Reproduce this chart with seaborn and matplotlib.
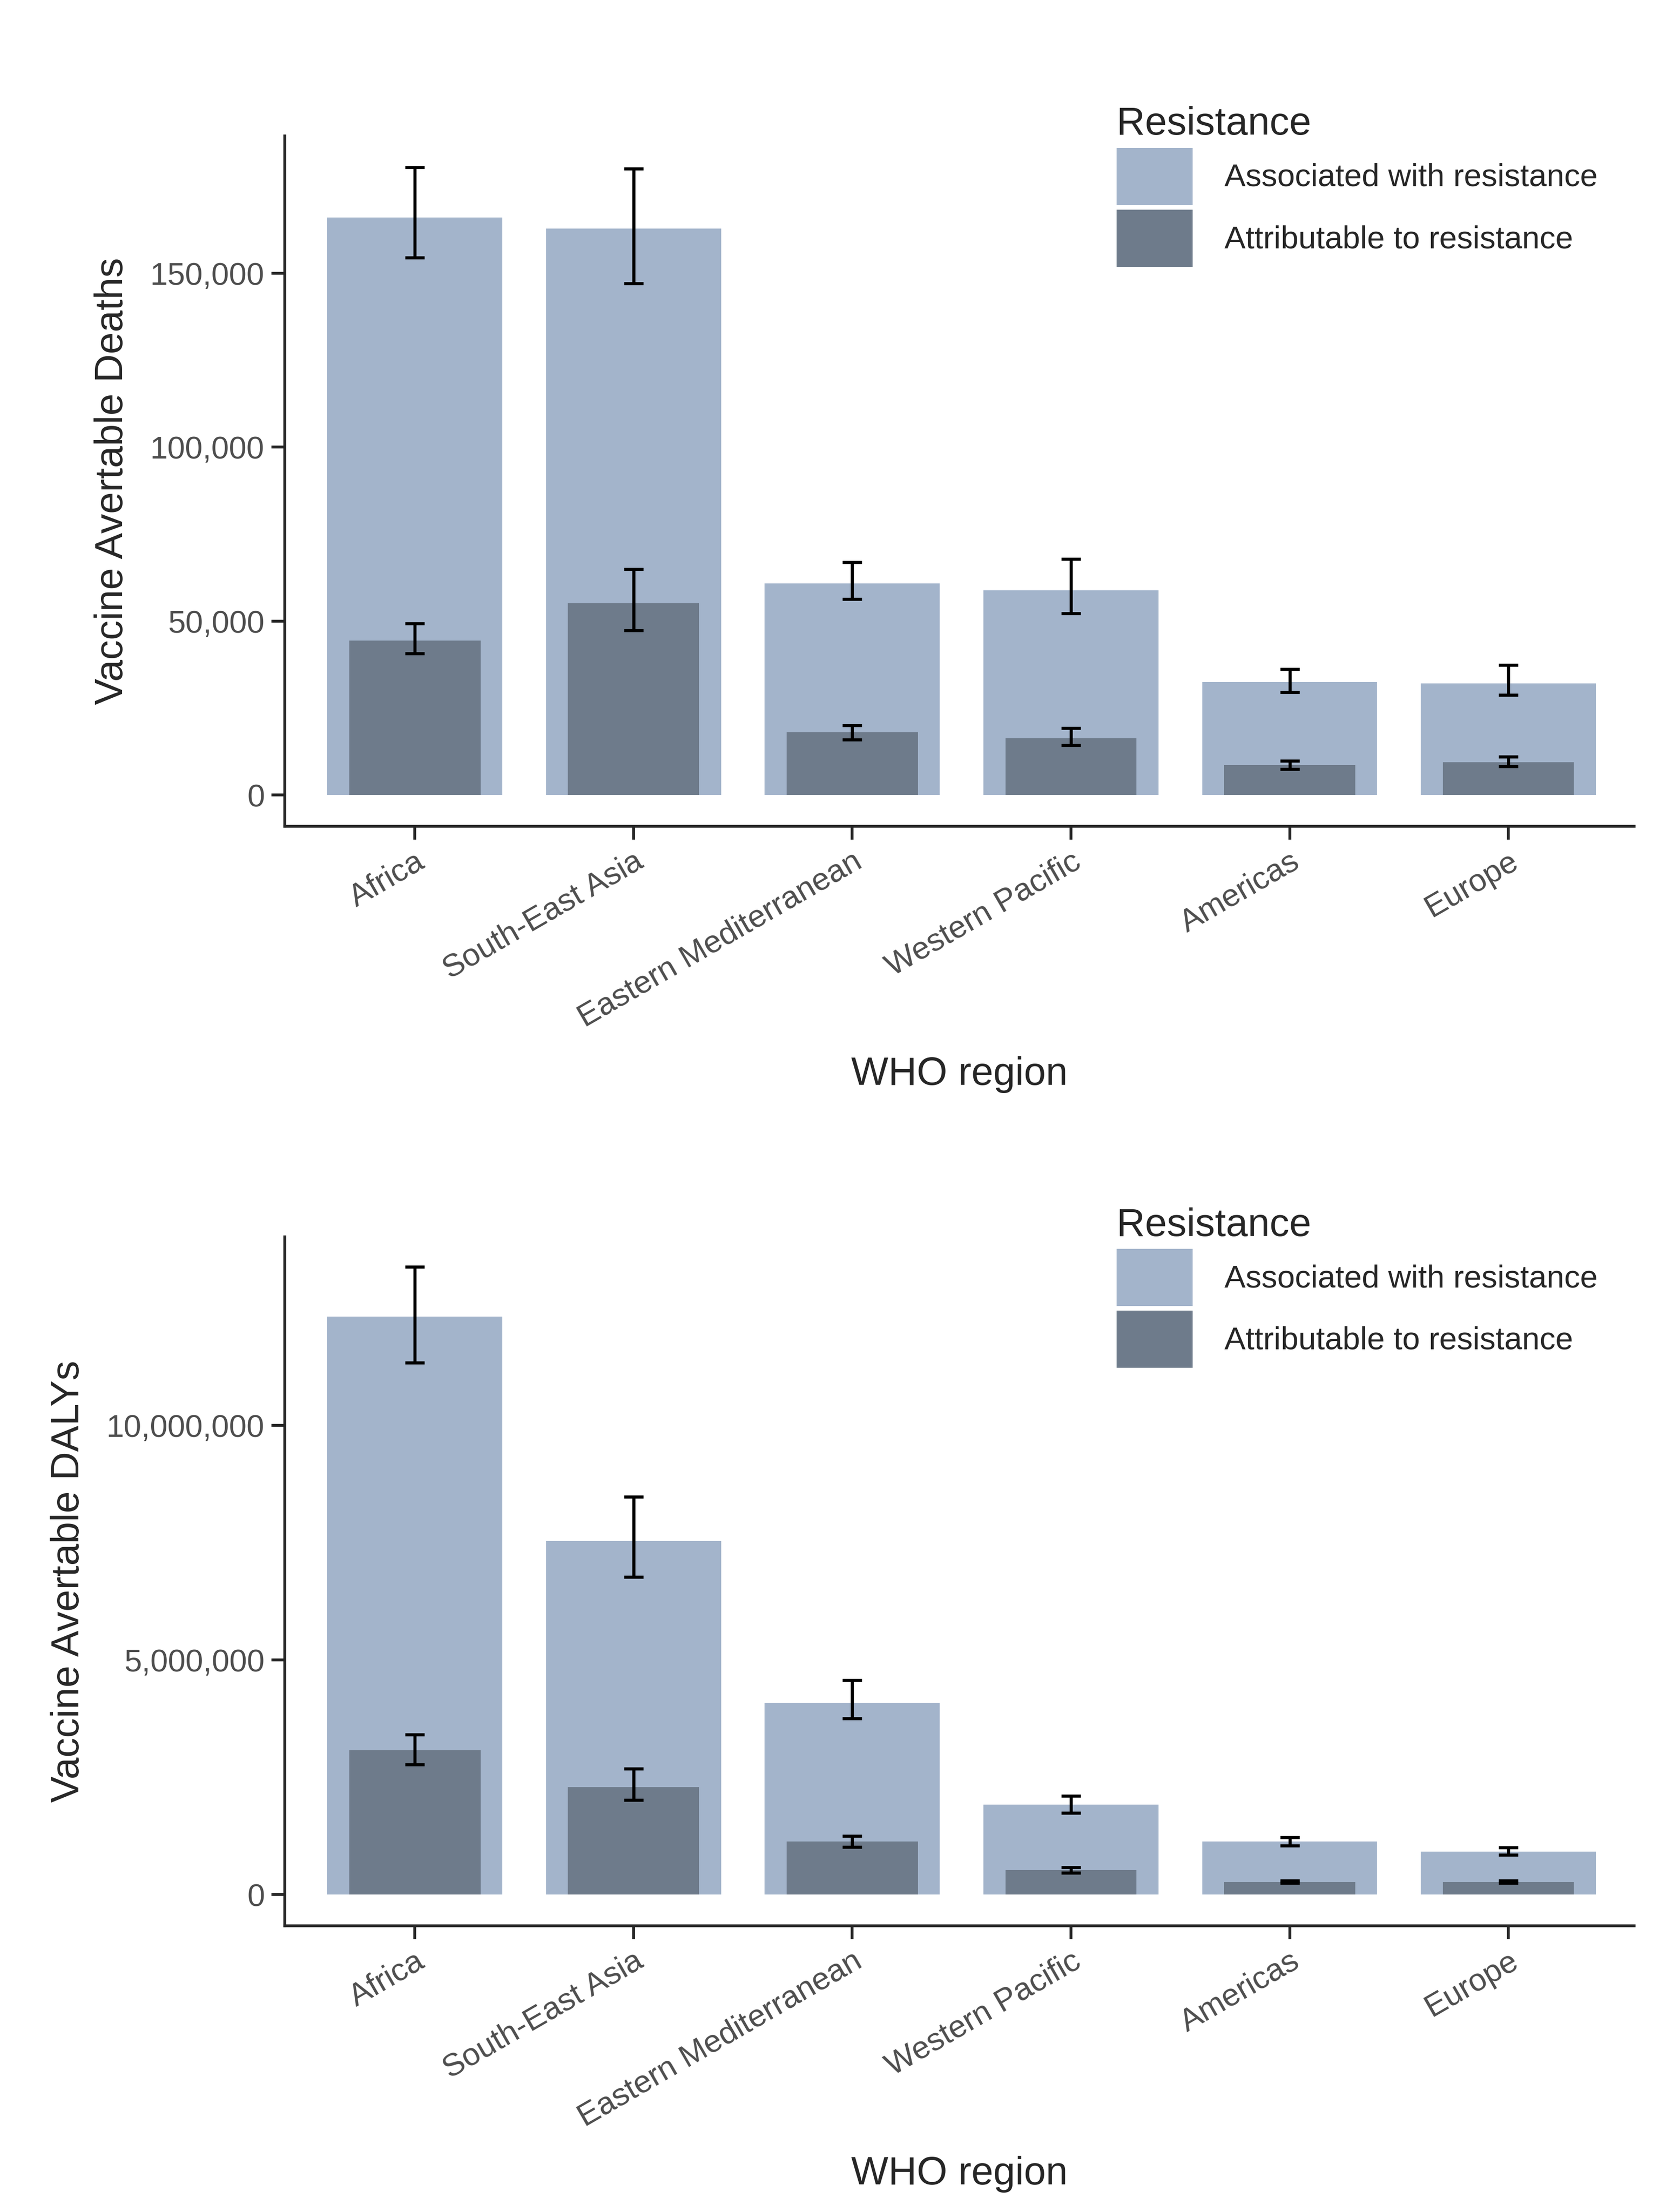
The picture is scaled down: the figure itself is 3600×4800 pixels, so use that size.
import numpy as np
import pandas as pd
import matplotlib
matplotlib.use("Agg")
import matplotlib.pyplot as plt
import seaborn as sns
from matplotlib.patches import Patch
from matplotlib.ticker import FuncFormatter

regions = ["Africa", "South-East Asia", "Eastern Mediterranean", "Western Pacific", "Americas", "Europe"]

deaths_assoc = [166000, 162800, 60800, 58800, 32500, 32100]
deaths_assoc_lo = [154500, 147100, 56300, 52200, 29600, 28800]
deaths_assoc_hi = [180400, 180000, 67000, 67800, 36200, 37400]
deaths_attr = [44400, 55100, 18100, 16400, 8600, 9500]
deaths_attr_lo = [40700, 47300, 16000, 14400, 7400, 8200]
deaths_attr_hi = [49300, 64900, 20100, 19300, 9900, 11100]

dalys_assoc = [12320000, 7530000, 4090000, 1920000, 1130000, 910000]
dalys_assoc_lo = [11340000, 6770000, 3750000, 1740000, 1040000, 850000]
dalys_assoc_hi = [13380000, 8480000, 4570000, 2100000, 1220000, 1000000]
dalys_attr = [3080000, 2290000, 1130000, 520000, 270000, 270000]
dalys_attr_lo = [2770000, 2010000, 1010000, 460000, 250000, 250000]
dalys_attr_hi = [3410000, 2680000, 1250000, 580000, 300000, 300000]

C_ASSOC = "#A3B4CB"
C_ATTR = "#6E7B8B"

sns.set_style("ticks")
plt.rcParams["font.family"] = ["Liberation Sans", "DejaVu Sans"]

fig = plt.figure(figsize=(12, 16), dpi=300)
ax1 = fig.add_axes([0.1716, 0.6264, 0.8134, 0.3122])
ax2 = fig.add_axes([0.1716, 0.1293, 0.8134, 0.3116])


def panel(ax, assoc, alo, ahi, attr, tlo, thi, ylabel, ylim, ticks):
    df_a = pd.DataFrame({"region": regions, "value": assoc})
    df_t = pd.DataFrame({"region": regions, "value": attr})
    sns.barplot(data=df_a, x="region", y="value", order=regions, color=C_ASSOC,
                width=0.8, saturation=1, ax=ax, errorbar=None, linewidth=0)
    sns.barplot(data=df_t, x="region", y="value", order=regions, color=C_ATTR,
                width=0.6, saturation=1, ax=ax, errorbar=None, linewidth=0)
    x = np.arange(len(regions))
    for v, lo, hi in [(assoc, alo, ahi), (attr, tlo, thi)]:
        v = np.array(v); lo = np.array(lo); hi = np.array(hi)
        ax.errorbar(x, v, yerr=[v - lo, hi - v], fmt="none", ecolor="black",
                    elinewidth=1.6, capsize=5, capthick=1.6)
    ax.set_xlim(-0.595, 5.575)
    ax.set_ylim(*ylim)
    ax.set_yticks(ticks)
    ax.yaxis.set_major_formatter(FuncFormatter(lambda v, p: f"{int(v):,}"))
    ax.set_xticks(x)
    ax.set_xticklabels(regions, rotation=30, ha="right", rotation_mode="anchor")
    ax.tick_params(axis="both", labelsize=16.5, labelcolor="#4D4D4D", width=1.5, length=7)
    for s in ["top", "right"]:
        ax.spines[s].set_visible(False)
    for s in ["left", "bottom"]:
        ax.spines[s].set_linewidth(1.5)
    ax.set_xlabel("WHO region", fontsize=20.5, labelpad=12)
    ax.set_ylabel(ylabel, fontsize=20.5, labelpad=10)
    handles = [Patch(facecolor=C_ASSOC, edgecolor="none", label="Associated with resistance"),
               Patch(facecolor=C_ATTR, edgecolor="none", label="Attributable to resistance")]
    ax.legend(handles=handles, title="Resistance", loc="upper left",
              bbox_to_anchor=(0.6, 1.075), frameon=False, fontsize=16.5,
              title_fontsize=20.5, handlelength=2.4, handleheight=2.4,
              handletextpad=1.0, labelspacing=0.15, alignment="left", borderaxespad=0.3)


panel(ax1, deaths_assoc, deaths_assoc_lo, deaths_assoc_hi, deaths_attr, deaths_attr_lo,
      deaths_attr_hi, "Vaccine Avertable Deaths", (-9000, 189500), [0, 50000, 100000, 150000])
panel(ax2, dalys_assoc, dalys_assoc_lo, dalys_assoc_hi, dalys_attr, dalys_attr_lo,
      dalys_attr_hi, "Vaccine Avertable DALYs", (-670000, 14020000), [0, 5000000, 10000000])

fig.savefig("out.png", dpi=300)
